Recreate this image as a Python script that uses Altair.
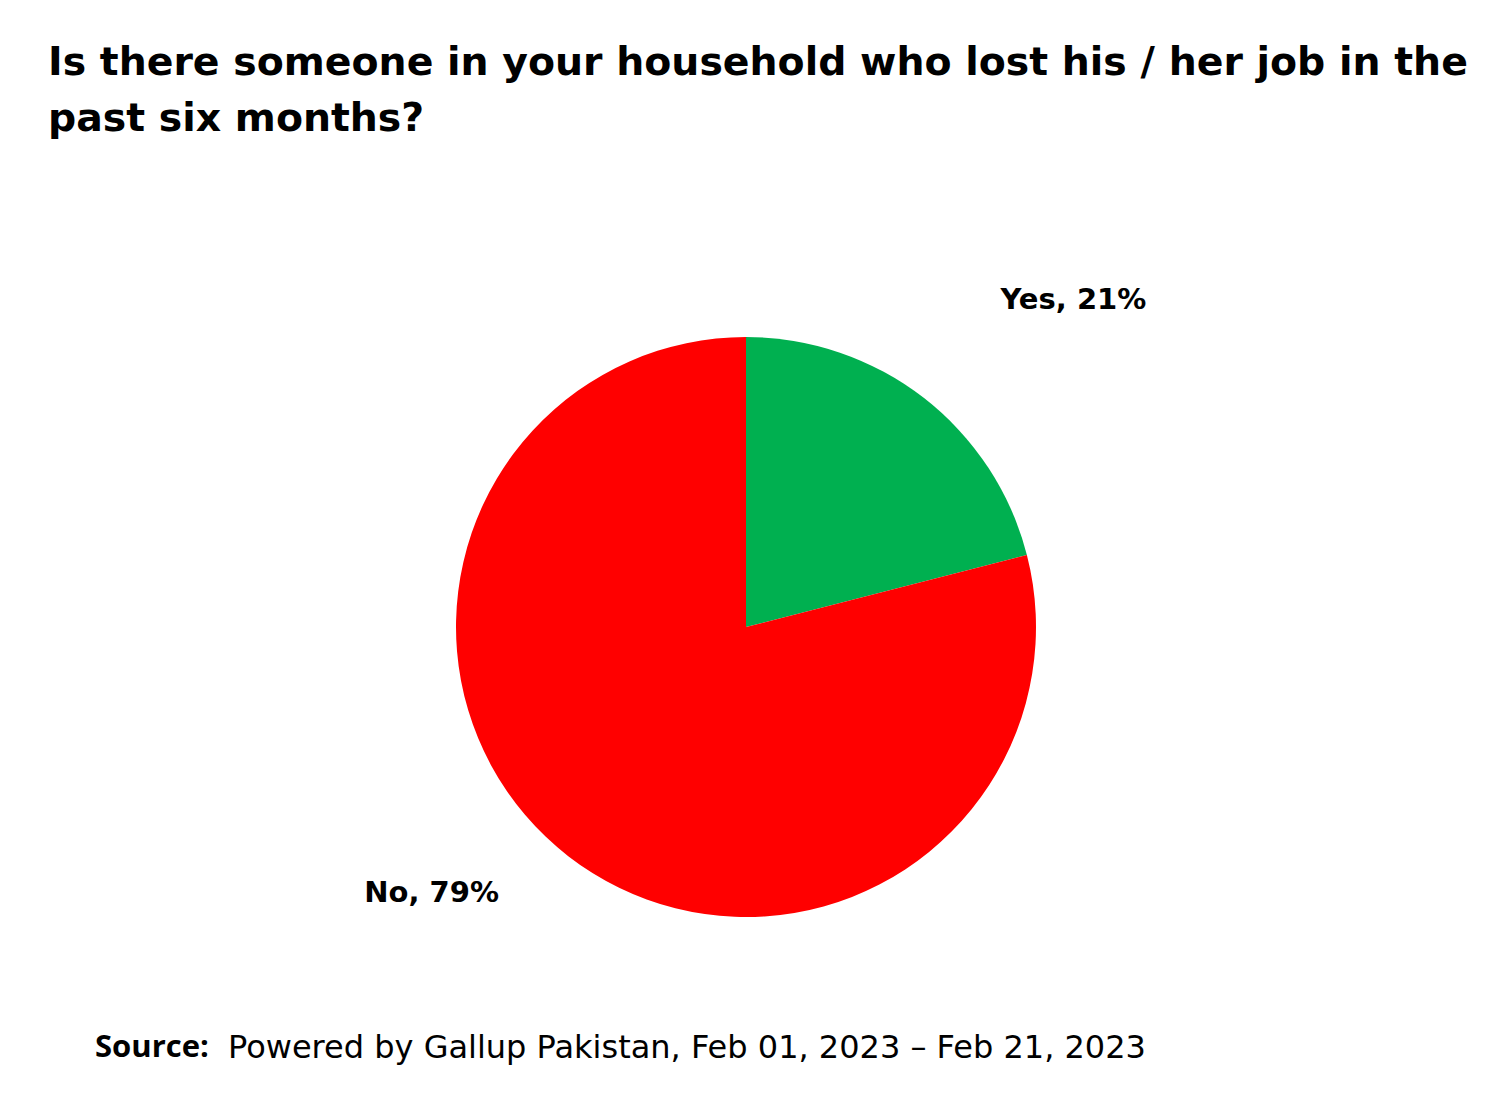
import altair as alt
import pandas as pd

categories = ["Yes", "No"]
values = [21, 79]
colors = ["#00B050", "#FF0000"]
order = [1, 2]

title_lines = ["Is there someone in your household who lost his / her job in the",
               "past six months?"]
source_bold = "Source:"
source_rest = "Powered by Gallup Pakistan, Feb 01, 2023 \u2013 Feb 21, 2023"

df = pd.DataFrame({"cat": categories, "val": values, "ord": order})
df["label"] = [f"{c}, {v}%" for c, v in zip(categories, values)]

W, H = 1480, 1075
CX, CY, R = 738, 619, 290
TAU = 6.283185307179586

theta_scale = alt.Scale(domain=[0, 100], range=[0, TAU])

stacked = alt.Chart(df).transform_window(
    end="sum(val)", sort=[alt.SortField("ord")], frame=[None, 0]
).transform_calculate(
    start="datum.end - datum.val",
    mid="datum.end - datum.val / 2",
)

pie = stacked.mark_arc(radius=R, stroke=None).encode(
    x=alt.value(CX), y=alt.value(CY),
    theta=alt.Theta("start:Q", scale=theta_scale, stack=None),
    theta2="end:Q",
    color=alt.Color("cat:N", scale=alt.Scale(domain=categories, range=colors), legend=None),
)

lab_font = "DejaVu Sans"

def label_layer(cat, dx, dy):
    return stacked.transform_filter(alt.datum.cat == cat).mark_text(
        radius=420, dx=dx, dy=dy, fontSize=29, fontWeight="bold", font=lab_font, color="#000"
    ).encode(
        x=alt.value(CX), y=alt.value(CY),
        theta=alt.Theta("mid:Q", scale=theta_scale, stack=None),
        text="label:N",
    )

yes_lab = label_layer("Yes", 70, 5)
no_lab = label_layer("No", -57, -66)

single = alt.Chart(df).transform_filter(alt.datum.cat == "Yes")

title = single.mark_text(
    text=title_lines, align="left", baseline="top", fontSize=39.4, fontWeight="bold",
    font="DejaVu Sans", lineHeight=56, color="#000"
).encode(x=alt.value(40), y=alt.value(36))

src1 = single.mark_text(
    text=source_bold, align="left", baseline="middle", fontSize=31, fontWeight="bold",
    font="Open Sans", color="#000"
).encode(x=alt.value(87), y=alt.value(1040))

src2 = single.mark_text(
    text=source_rest, align="left", baseline="middle", fontSize=32,
    font="DejaVu Sans", color="#000"
).encode(x=alt.value(220), y=alt.value(1040))

chart = alt.layer(pie, yes_lab, no_lab, title, src1, src2).properties(
    width=W, height=H, autosize=alt.AutoSizeParams(type="none"), padding=0,
    background="white"
).configure_view(stroke=None)

chart.save("out.html", embed_options={"renderer": "svg", "actions": False})
